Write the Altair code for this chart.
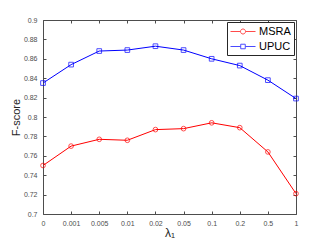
import altair as alt
import pandas as pd

# ---- data ----
lams = ["0", "0.001", "0.005", "0.01", "0.02", "0.05", "0.1", "0.2", "0.5", "1"]
msra = [0.750, 0.770, 0.777, 0.776, 0.787, 0.788, 0.794, 0.789, 0.764, 0.721]
upuc = [0.835, 0.854, 0.868, 0.869, 0.873, 0.869, 0.860, 0.853, 0.838, 0.819]
series = ["MSRA", "UPUC"]
colors = ["#ff0000", "#0000ff"]
yticks = [0.7, 0.72, 0.74, 0.76, 0.78, 0.8, 0.82, 0.84, 0.86, 0.88, 0.9]

W, H = 253, 194
GRAY = "#4d4d4d"
FONT = "Liberation Sans"
TICK = 3

df = pd.DataFrame({
    "lam": lams + lams,
    "score": msra + upuc,
    "series": [series[0]] * len(lams) + [series[1]] * len(lams),
})

xs = alt.Scale(type="point", padding=0)
ys = alt.Scale(domain=[0.7, 0.9], nice=False, zero=False)
cs = alt.Scale(domain=series, range=colors)

# inward MATLAB-style ticks on all four sides are drawn as dashed grid lines
x_axis = alt.Axis(orient="bottom", labelAngle=0, ticks=False, tickSize=0, domain=False,
                  grid=True, gridDash=[TICK, H - 2 * TICK, TICK], gridColor=GRAY,
                  gridOpacity=1, gridWidth=1,
                  labelPadding=5, labelFontSize=7, labelColor=GRAY,
                  title="λ₁", titleFontSize=12, titlePadding=1, titleFontWeight="normal",
                  titleColor="#262626")
y_axis = alt.Axis(orient="left", values=yticks, format=".2~f", ticks=False, tickSize=0,
                  domain=False, grid=True, gridDash=[TICK, W - 2 * TICK, TICK],
                  gridColor=GRAY, gridOpacity=1, gridWidth=1,
                  labelPadding=6, labelFontSize=7, labelColor=GRAY,
                  title="F-score", titleFontSize=11, titlePadding=2,
                  titleFontWeight="normal", titleColor="#262626")


def X():
    return alt.X("lam:O", sort=lams, scale=xs, axis=x_axis)


def Y():
    return alt.Y("score:Q", scale=ys, axis=y_axis)


base = alt.Chart(df)

lines = base.mark_line(strokeWidth=1).encode(
    x=X(), y=Y(),
    color=alt.Color("series:N", scale=cs, legend=None),
)

pts_msra = base.transform_filter(alt.datum.series == "MSRA").mark_point(
    shape="circle", filled=False, size=22, strokeWidth=1
).encode(
    x=X(), y=Y(),
    color=alt.Color("series:N", scale=cs, legend=None),
)

pts_upuc = base.transform_filter(alt.datum.series == "UPUC").mark_point(
    shape="square", filled=False, size=22, strokeWidth=1
).encode(
    x=X(), y=Y(),
    color=alt.Color("series:N", scale=cs, legend=None),
)

circ = "M-1,0H0.663A0.42,0.42,0,1,1,1.503,0A0.42,0.42,0,1,1,0.663,0M1.503,0H3.17"
sq = "M-1,0H0.703M0.703,-0.38H1.463V0.38H0.703ZM1.463,0H3.17"

leg = dict(title=None, orient="top-right", offset=2, strokeColor="#262626",
           fillColor="white", padding=3, labelFont=FONT, labelFontSize=11,
           labelColor="black", symbolSize=144, symbolStrokeWidth=1, labelOffset=16,
           rowPadding=3, symbolFillColor="transparent")

# legend-only layer: no data rows, entries come from the explicit scale domains
legend_layer = base.transform_filter("false").mark_point(filled=False).encode(
    x=X(), y=Y(),
    color=alt.Color("series:N", scale=cs, legend=alt.Legend(**leg)),
    shape=alt.Shape("series:N", scale=alt.Scale(domain=series, range=[circ, sq]),
                    legend=alt.Legend(**leg)),
)

chart = alt.layer(lines, pts_msra, pts_upuc, legend_layer).resolve_legend(
    color="independent", shape="independent"
).properties(
    width=W, height=H,
    padding={"left": 2, "top": 8, "right": 5, "bottom": 2},
    background="white",
).configure_view(
    stroke=GRAY, strokeWidth=1
).configure_axis(
    labelFont=FONT, titleFont=FONT
)

chart.save("out.html", embed_options={"renderer": "svg", "actions": False})
